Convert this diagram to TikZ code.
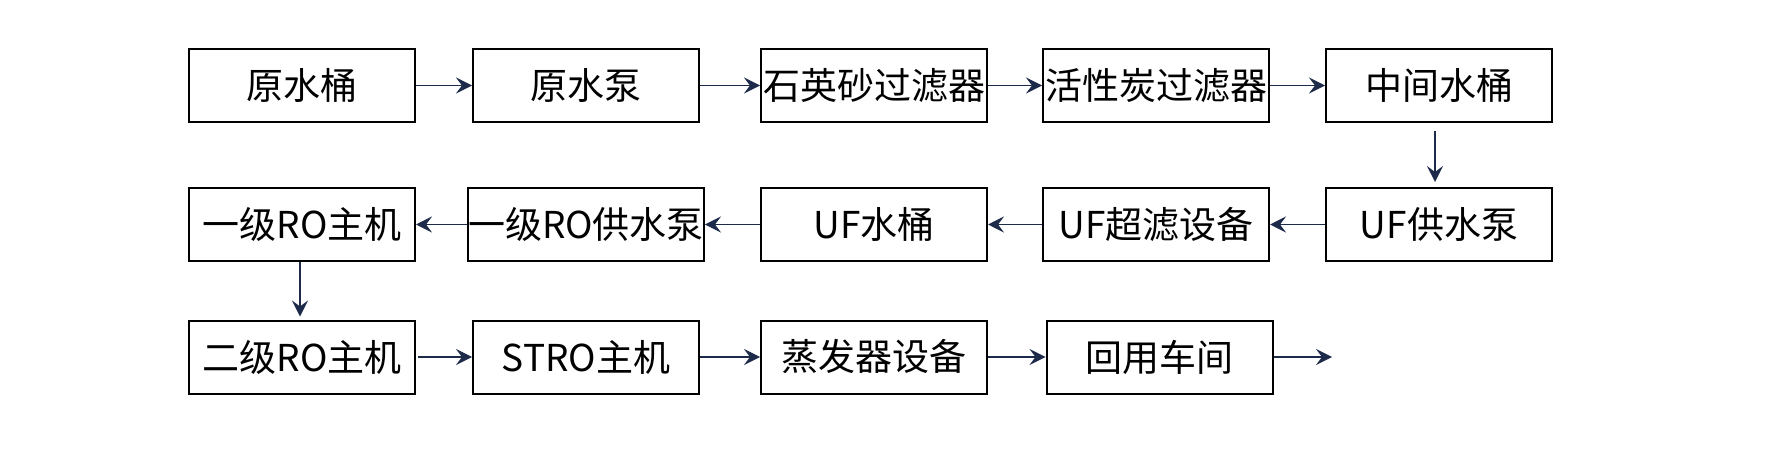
\documentclass[tikz,border=0pt]{standalone}
\usepackage{fontspec}
\newfontfamily\cjk{Noto Sans CJK SC}
\usetikzlibrary{arrows.meta}
\definecolor{pipe}{HTML}{1E2A4A}

\begin{document}
\begin{tikzpicture}[x=0.5pt,y=-0.5pt,
  unit/.style={draw,line width=1pt,minimum width=113pt,minimum height=36.5pt,inner sep=0pt,
    font=\cjk\fontsize{18.5}{20}\selectfont},
  flow/.style={draw=pipe,line width=0.75pt,-{Stealth[length=8pt,width=8pt,inset=3pt]}}]

\useasboundingbox (0,0) rectangle (1774,476);

% premiere ligne
\node[unit] (ysht) at (302,85.5) {原水桶};
\node[unit] (yszb) at (586,85.5) {原水泵};
\node[unit] (syglq) at (874,85.5) {石英砂过滤器};
\node[unit] (htglq) at (1156,85.5) {活性炭过滤器};
\node[unit] (zjst) at (1439,85.5) {中间水桶};

% deuxieme ligne
\node[unit] (roa) at (302,224.5) {一级RO主机};
\node[unit] (rogsb) at (586,224.5) {一级RO供水泵};
\node[unit] (ufst) at (874,224.5) {UF水桶};
\node[unit] (ufcl) at (1156,224.5) {UF超滤设备};
\node[unit] (ufgsb) at (1439,224.5) {UF供水泵};

% troisieme ligne
\node[unit] (rob) at (302,357) {二级RO主机};
\node[unit] (stro) at (586,357) {STRO主机};
\node[unit] (zfq) at (874,357) {蒸发器设备};
\node[unit] (hycj) at (1159.5,357) {回用车间};
\coordinate (sortie) at (1332,357);

\draw[flow] (ysht)--(yszb);
\draw[flow] (yszb)--(syglq);
\draw[flow] (syglq)--(htglq);
\draw[flow] (htglq)--(zjst);
\draw[flow] ([xshift=-2pt,yshift=-4pt]zjst.south)--([xshift=-2pt,yshift=2.5pt]ufgsb.north);

\draw[flow] (ufgsb)--(ufcl);
\draw[flow] (ufcl)--(ufst);
\draw[flow] (ufst)--(rogsb);
\draw[flow] (rogsb)--(roa);
\draw[flow] ([xshift=-1pt]roa.south)--([xshift=-1pt,yshift=1.5pt]rob.north);

\draw[flow] ([xshift=1pt]rob.east)--(stro);
\draw[flow] (stro)--(zfq);
\draw[flow] (zfq)--(hycj);
\draw[flow] (hycj)--(sortie); %sortie de l'eau
\end{tikzpicture}
\end{document}
